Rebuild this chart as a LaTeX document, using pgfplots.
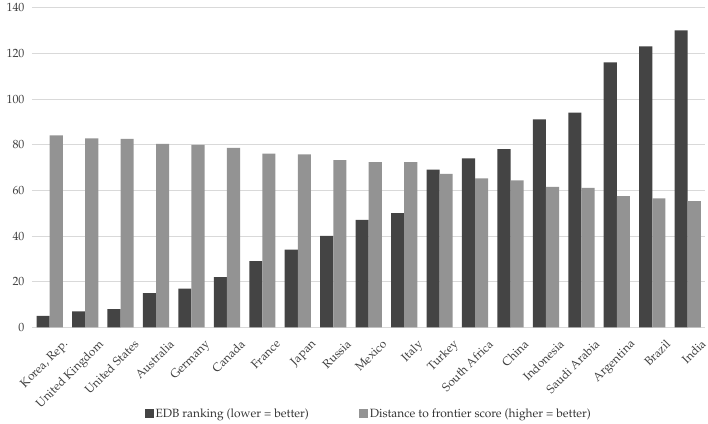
\documentclass[border=0pt]{standalone}
\usepackage[T1]{fontenc}
\usepackage{mathpazo}
\usepackage{pgfplots}
\pgfplotsset{compat=1.18}
\usetikzlibrary{calc}
\definecolor{edbdark}{HTML}{444444}
\definecolor{dtflight}{HTML}{939393}
\definecolor{gridgray}{HTML}{D9D9D9}
\begin{document}
\begin{tikzpicture}
\begin{axis}[
  name=ax,
  scale only axis,
  width=674bp, height=320bp,
  ymin=0, ymax=140, ytick={0,20,...,140},
  xmin=-0.5, xmax=18.5,
  xtick={0,...,18},
  xticklabels={{Korea, Rep.},United Kingdom,United States,Australia,Germany,Canada,France,Japan,Russia,Mexico,Italy,Turkey,South Africa,China,Indonesia,Saudi Arabia,Argentina,Brazil,India},
  x tick label style={rotate=45, anchor=north east, inner sep=1pt, xshift=2bp, yshift=-16bp},
  ybar=0pt, bar width=0.37,
  axis x line*=bottom, axis y line*=left,
  x axis line style={draw=gridgray, line width=0.8pt, -},
  y axis line style={draw=none},
  ymajorgrids, grid style={draw=gridgray, line width=0.8pt},
  major tick length=0pt,
  tick label style={font=\fontsize{12}{14}\selectfont, text=black!75},
  yticklabel style={xshift=-4bp},
  ytick style={draw=none}, xtick style={draw=none},
  legend columns=2,
  legend style={at={(0.5,-0.27)}, anchor=center, draw=none, fill=none,
    font=\fontsize{12}{14}\selectfont, text=black!80,
    nodes={inner xsep=2bp},
    /tikz/every even column/.append style={column sep=48bp}},
  legend image code/.code={\fill[#1] (0bp,-4.5bp) rectangle (9bp,4.5bp);},
]
\addplot[fill=edbdark, draw=none] coordinates {
  (0,5) (1,7) (2,8) (3,15) (4,17) (5,22) (6,29) (7,34) (8,40) (9,47)
  (10,50) (11,69) (12,74) (13,78) (14,91) (15,94) (16,116) (17,123) (18,130)
};
\addplot[fill=dtflight, draw=none] coordinates {
  (0,84.1) (1,82.7) (2,82.5) (3,80.3) (4,79.9) (5,78.6) (6,76.1) (7,75.7) (8,73.2) (9,72.3)
  (10,72.3) (11,67.2) (12,65.2) (13,64.3) (14,61.5) (15,61.1) (16,57.5) (17,56.5) (18,55.3)
};
\legend{EDB ranking (lower = better), Distance to frontier score (higher = better)}
\end{axis}
\path (ax.south west) ++(-32bp,-96bp) rectangle ($(ax.north east)+(2bp,7bp)$);
\end{tikzpicture}
\end{document}
